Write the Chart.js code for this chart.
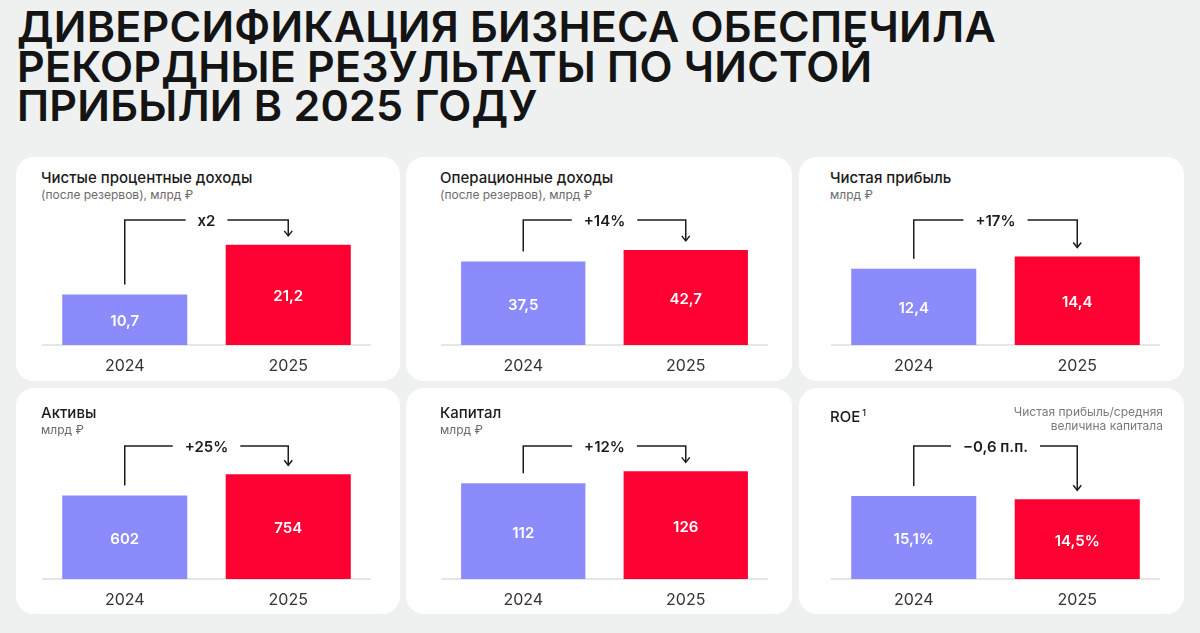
<!DOCTYPE html>
<html lang="ru">
<head>
<meta charset="utf-8">
<script src="https://cdn.jsdelivr.net/npm/chart.js@4.4.1/dist/chart.umd.min.js"></script>
<style>
  html, body { margin: 0; padding: 0; }
  body { width: 1200px; height: 633px; background: #eff1f0; position: relative; overflow: hidden; font-family: Inter, "Noto Sans", sans-serif; }
  #heading { position: absolute; left: 17px; top: 7px; font-size: 43px; line-height: 39.5px; font-weight: 600; color: #141414; white-space: nowrap; }
  #heading span { display: block; }
  .card { position: absolute; background: #fff; border-radius: 18px; }
  .card canvas { position: absolute; left: 0; top: 0; }
  .ptitle { position: absolute; font-size: 15px; line-height: 18px; color: #1b1b1b; font-weight: 500; white-space: nowrap; }
  .psub { position: absolute; font-size: 12px; line-height: 14px; color: #6b6b6b; white-space: nowrap; }
  .pnote { position: absolute; font-size: 12px; line-height: 14px; color: #7a7a7a; text-align: right; white-space: nowrap; }
  sup { font-size: 9px; vertical-align: 6px; margin-left: 2px; }
</style>
</head>
<body>
<div id="heading"><span>ДИВЕРСИФИКАЦИЯ БИЗНЕСА ОБЕСПЕЧИЛА</span><span>РЕКОРДНЫЕ РЕЗУЛЬТАТЫ ПО ЧИСТОЙ</span><span>ПРИБЫЛИ В 2025 ГОДУ</span></div>
<script>
// ---- data ----
const years = ['2024', '2025'];
const netInterestIncome = [10.7, 21.2];
const operatingIncome = [37.5, 42.7];
const netProfit = [12.4, 14.4];
const assets = [602, 754];
const capital = [112, 126];
const roe = [15.1, 14.5];
const changeLabels = ['x2', '+14%', '+17%', '+25%', '+12%', '\u22120,6 п.п.'];
const panelTitles = ['Чистые процентные доходы', 'Операционные доходы', 'Чистая прибыль', 'Активы', 'Капитал', 'ROE'];
const panelUnits = ['(после резервов), млрд ₽', '(после резервов), млрд ₽', 'млрд ₽', 'млрд ₽', 'млрд ₽', ''];
const valueSuffix = ['', '', '', '', '', '%'];
const roeNote = ['Чистая прибыль/средняя', 'величина капитала'];

const seriesList = [netInterestIncome, operatingIncome, netProfit, assets, capital, roe];

// ---- layout / style ----
const colors = ['#8b8bfb', '#ff0033'];
const cols = [{l: 16, r: 400, cl: 43, cr: 370}, {l: 406, r: 792, cl: 442, cr: 767}, {l: 799, r: 1184, cl: 832, cr: 1159}];
const rows = [{t: 157, b: 381, ct: 200, cb: 344, title: 169, sub: 188}, {t: 388, b: 614, ct: 426, cb: 578, title: 404, sub: 423}];
const axisMax = [30.7, 65.1, 23.6, 1102, 179.1, 27.8];
const AXIS_H = 44.2;
const EXTRA = 20;

function fmt(v, suffix) { return String(v).replace('.', ',') + suffix; }

function bracketPlugin(label) {
  return {
    id: 'bracket',
    afterDatasetsDraw(chart) {
      const ctx = chart.ctx;
      const bars = chart.getDatasetMeta(0).data;
      const ds = chart.data.datasets[0];
      ctx.save();
      ctx.fillStyle = '#ffffff';
      ctx.font = '600 15px Inter, "Noto Sans", sans-serif';
      ctx.textAlign = 'center';
      ctx.textBaseline = 'middle';
      bars.forEach((b, i) => {
        ctx.fillText(fmt(ds.data[i], ds.suffix), b.x, (b.y + b.base) / 2 + 2);
      });
      const yTop = chart.chartArea.top + 20;
      const x0 = bars[0].x, x1 = bars[1].x;
      const mid = (x0 + x1) / 2;
      const tw = ctx.measureText(label).width;
      ctx.strokeStyle = '#1c1c1c';
      ctx.lineWidth = 1.5;
      ctx.beginPath();
      ctx.moveTo(x0, bars[0].y - 10);
      ctx.lineTo(x0, yTop);
      ctx.lineTo(mid - tw / 2 - 12, yTop);
      ctx.moveTo(mid + tw / 2 + 12, yTop);
      ctx.lineTo(x1, yTop);
      const tip = bars[1].y - 9;
      ctx.lineTo(x1, tip);
      ctx.stroke();
      ctx.beginPath();
      ctx.moveTo(x1 - 4, tip - 5);
      ctx.lineTo(x1, tip);
      ctx.lineTo(x1 + 4, tip - 5);
      ctx.stroke();
      ctx.fillStyle = '#1c1c1c';
      ctx.fillText(label, mid, yTop + 1);
      ctx.restore();
    }
  };
}

seriesList.forEach((values, i) => {
  const col = cols[i % 3], row = rows[Math.floor(i / 3)];
  const card = document.createElement('div');
  card.className = 'card';
  const w = col.r - col.l, h = row.b - row.t;
  card.style.left = col.l + 'px'; card.style.top = row.t + 'px';
  card.style.width = w + 'px'; card.style.height = h + 'px';
  document.body.appendChild(card);

  const t = document.createElement('div');
  t.className = 'ptitle';
  t.style.left = (col.cl - col.l - 2) + 'px';
  t.style.top = (row.title - row.t) + 'px';
  t.innerHTML = panelTitles[i] + (i === 5 ? '<sup>1</sup>' : '');
  card.appendChild(t);
  if (panelUnits[i]) {
    const s = document.createElement('div');
    s.className = 'psub';
    s.style.left = (col.cl - col.l - 2) + 'px';
    s.style.top = (row.sub - row.t) + 'px';
    s.textContent = panelUnits[i];
    card.appendChild(s);
  }
  if (i === 5) {
    const n = document.createElement('div');
    n.className = 'pnote';
    n.style.right = (col.r - 1163) + 'px';
    n.style.top = (row.title - row.t + 1) + 'px';
    n.innerHTML = roeNote.join('<br>');
    card.appendChild(n);
  }

  const cv = document.createElement('canvas');
  const ch = h + EXTRA;
  cv.width = w; cv.height = ch;
  cv.style.width = w + 'px'; cv.style.height = ch + 'px';
  card.appendChild(cv);

  new Chart(cv, {
    type: 'bar',
    data: {
      labels: years,
      datasets: [{ data: values, suffix: valueSuffix[i], backgroundColor: colors, borderWidth: 0, barPercentage: 0.765, categoryPercentage: 1 }]
    },
    options: {
      responsive: false,
      devicePixelRatio: 1,
      animation: false,
      layout: { padding: { left: col.cl - col.l, right: col.r - col.cr, top: row.ct - row.t, bottom: row.b + EXTRA - row.cb - AXIS_H } },
      plugins: { legend: { display: false }, tooltip: { enabled: false }, title: { display: false } },
      scales: {
        x: {
          grid: { display: false, drawTicks: false },
          border: { display: true, color: '#e4e6e5', width: 2 },
          ticks: { color: '#333333', padding: 12, font: { size: 16, family: 'Inter, "Noto Sans", sans-serif' } }
        },
        y: { display: false, min: 0, max: axisMax[i] }
      }
    },
    plugins: [bracketPlugin(changeLabels[i])]
  });
});

(function () {
  const h = document.getElementById('heading');
  const first = h.querySelector('span');
  first.style.display = 'inline-block';
  const wNow = first.getBoundingClientRect().width;
  first.style.display = 'block';
  const n = first.textContent.length;
  const ls = (979 - wNow) / n;
  h.style.letterSpacing = ls.toFixed(2) + 'px';
})();
</script>
</body>
</html>
